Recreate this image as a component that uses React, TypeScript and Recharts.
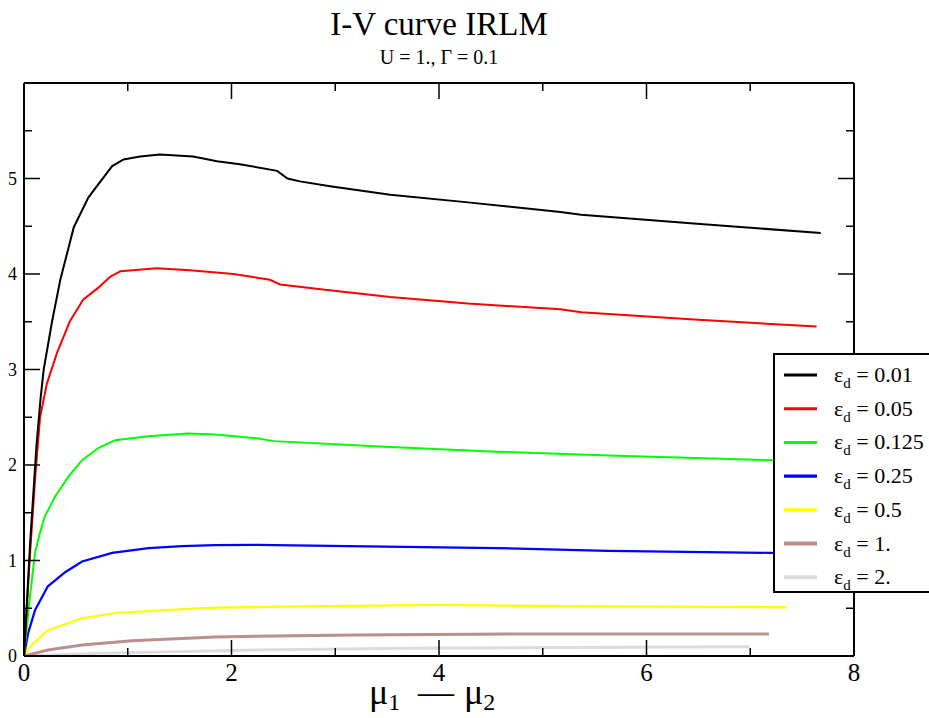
import React from 'react';
import { LineChart, Line, XAxis, YAxis, Legend } from 'recharts';

// ---- data ----
const epsLabels = ['0.01', '0.05', '0.125', '0.25', '0.5', '1.', '2.'];
const seriesColors = ['#000000', '#ff0000', '#00ff00', '#0000ff', '#ffff00', '#bc8f8f', '#dcdcdc'];
const seriesWidths = [2, 2, 2, 2.2, 2.2, 3, 3];

const x001 = [0, 0.06, 0.12, 0.16, 0.19, 0.27, 0.35, 0.48, 0.62, 0.73, 0.85, 0.96, 1.12, 1.31, 1.63, 1.86, 2.08, 2.44, 2.54, 2.66, 2.95, 3.53, 4.28, 5.17, 5.37, 6.55, 7.68];
const y001 = [0, 1.2, 2.2, 2.7, 3.0, 3.5, 3.94, 4.49, 4.8, 4.96, 5.13, 5.2, 5.23, 5.25, 5.23, 5.18, 5.15, 5.08, 5.0, 4.97, 4.92, 4.83, 4.75, 4.65, 4.62, 4.52, 4.43];

const x005 = [0, 0.06, 0.11, 0.155, 0.22, 0.32, 0.44, 0.57, 0.72, 0.83, 0.93, 1.28, 1.6, 2.02, 2.37, 2.47, 2.86, 3.53, 4.28, 5.17, 5.37, 6.5, 7.64];
const y005 = [0, 1.1, 1.9, 2.5, 2.85, 3.18, 3.5, 3.73, 3.86, 3.97, 4.03, 4.06, 4.04, 4.0, 3.94, 3.89, 3.84, 3.76, 3.69, 3.63, 3.6, 3.52, 3.45];

const x0125 = [0, 0.05, 0.106, 0.154, 0.2, 0.3, 0.43, 0.56, 0.72, 0.88, 1.2, 1.58, 1.84, 2.24, 2.41, 3.48, 4.56, 5.63, 7.2, 7.6];
const y0125 = [0, 0.55, 1.08, 1.29, 1.46, 1.67, 1.88, 2.05, 2.18, 2.26, 2.3, 2.33, 2.32, 2.28, 2.25, 2.19, 2.14, 2.1, 2.05, 2.03];

const x025 = [0, 0.04, 0.106, 0.23, 0.4, 0.56, 0.85, 1.2, 1.52, 1.84, 2.24, 3.48, 4.56, 5.63, 7.2, 7.6];
const y025 = [0, 0.24, 0.48, 0.73, 0.88, 0.99, 1.08, 1.13, 1.15, 1.16, 1.163, 1.146, 1.13, 1.1, 1.08, 1.07];

const x05 = [0, 0.058, 0.23, 0.56, 0.88, 1.36, 1.84, 2.72, 4.0, 5.5, 7.35];
const y05 = [0, 0.1, 0.27, 0.395, 0.45, 0.48, 0.506, 0.52, 0.535, 0.52, 0.51];

const x1 = [0, 0.23, 0.56, 1.04, 1.84, 3.2, 4.7, 7.18];
const y1 = [0, 0.063, 0.115, 0.16, 0.2, 0.22, 0.23, 0.23];

const x2 = [0, 0.75, 2.23, 3.7, 6.99];
const y2 = [0, 0.03, 0.063, 0.08, 0.098];

const xTicks = [0, 1, 2, 3, 4, 5, 6, 7, 8];
const yTicks = [0, 0.5, 1, 1.5, 2, 2.5, 3, 3.5, 4, 4.5, 5, 5.5, 6];
const xLabelled = [0, 2, 4, 6, 8];
const yLabelled = [0, 1, 2, 3, 4, 5];

const seriesX = [x001, x005, x0125, x025, x05, x1, x2];
const seriesY = [y001, y005, y0125, y025, y05, y1, y2];

const series = epsLabels.map((label, i) => ({
  name: label,
  color: seriesColors[i],
  width: seriesWidths[i],
  data: seriesX[i].map((x, j) => ({ x, y: seriesY[i][j] })),
}));

const FONT = '"Liberation Serif", "Times New Roman", serif';
const serif = { fontFamily: FONT };

const BottomTick = (props: any) => {
  const { x, y, payload } = props;
  const v = payload.value;
  const major = xLabelled.includes(v);
  return (
    <g>
      <line x1={x} y1={y} x2={x} y2={y - (major ? 16 : 8)} stroke="#000" strokeWidth={1.5} />
      {major && (
        <text x={x} y={y + 25} textAnchor="middle" fontSize={25} style={serif} fill="#000">
          {v}
        </text>
      )}
    </g>
  );
};

const TopTick = (props: any) => {
  const { x, y, payload } = props;
  const major = xLabelled.includes(payload.value);
  return <line x1={x} y1={y} x2={x} y2={y + (major ? 16 : 8)} stroke="#000" strokeWidth={1.5} />;
};

const LeftTick = (props: any) => {
  const { x, y, payload } = props;
  const v = payload.value;
  if (v >= 6) return <g />;
  const major = Number.isInteger(v);
  return (
    <g>
      <line x1={x} y1={y} x2={x + (major ? 16 : 8)} y2={y} stroke="#000" strokeWidth={1.5} />
      {yLabelled.includes(v) && (
        <text x={x - 7} y={y + 6} textAnchor="end" fontSize={18} style={serif} fill="#000">
          {v}
        </text>
      )}
    </g>
  );
};

const RightTick = (props: any) => {
  const { x, y, payload } = props;
  const v = payload.value;
  if (v >= 6) return <g />;
  const major = Number.isInteger(v);
  return <line x1={x} y1={y} x2={x - (major ? 16 : 8)} y2={y} stroke="#000" strokeWidth={1.5} />;
};

const XTitle = (props: any) => {
  const { viewBox } = props;
  const cx = viewBox.x + viewBox.width / 2;
  const by = 704;
  return (
    <text y={by} fontSize={36} style={serif} fill="#000">
      <tspan x={cx - 70}>μ</tspan>
      <tspan fontSize={24} dy={6}>1</tspan>
      <tspan x={cx - 21} dy={-6}>—</tspan>
      <tspan x={cx + 25}>μ</tspan>
      <tspan fontSize={24} dy={6}>2</tspan>
    </text>
  );
};

const LegendBox = (props: any) => {
  const payload = props.payload || [];
  return (
    <svg width={156} height={240} style={{ display: 'block' }}>
      {payload.map((entry: any, i: number) => {
        const s = series.find((q) => q.name === entry.value) || series[i];
        const cy = 20 + i * 33.7;
        return (
          <g key={i}>
            <line x1={9} y1={cy} x2={42} y2={cy} stroke={s.color} strokeWidth={s.width + 1} />
            <text x={59} y={cy + 7} fontSize={22} style={serif} fill="#000">
              ε<tspan fontSize={15} dy={6}>d</tspan>
              <tspan dy={-6}>{' = ' + s.name}</tspan>
            </text>
          </g>
        );
      })}
    </svg>
  );
};

const axisStyle = { stroke: '#000', strokeWidth: 2 };

export default function App() {
  return (
    <div style={{ position: 'absolute', left: 0, top: 0, width: 929, height: 718, overflow: 'hidden', background: '#fff' }}>
      <svg width={929} height={100} style={{ position: 'absolute', left: 0, top: 0 }}>
        <text x={439} y={35} textAnchor="middle" fontSize={33} style={serif} fill="#000">
          I-V curve IRLM
        </text>
        <text x={439} y={64} textAnchor="middle" fontSize={20} style={serif} fill="#000">
          U = 1., Γ = 0.1
        </text>
      </svg>
      <div style={{ position: 'absolute', left: 0, top: 0 }}>
        <LineChart width={929} height={718} margin={{ top: 82, right: 74, bottom: 61, left: 23 }}>
          <XAxis
            xAxisId="b"
            type="number"
            dataKey="x"
            domain={[0, 8]}
            ticks={xTicks}
            interval={0}
            allowDataOverflow
            height={1}
            tickSize={0}
            tickMargin={0}
            tickLine={false}
            axisLine={axisStyle}
            tick={<BottomTick />}
            label={<XTitle />}
          />
          <XAxis
            xAxisId="t"
            orientation="top"
            type="number"
            dataKey="x"
            domain={[0, 8]}
            ticks={xTicks}
            interval={0}
            allowDataOverflow
            height={1}
            tickSize={0}
            tickMargin={0}
            tickLine={false}
            axisLine={axisStyle}
            tick={<TopTick />}
          />
          <YAxis
            yAxisId="l"
            type="number"
            domain={[0, 6]}
            ticks={yTicks}
            interval={0}
            allowDataOverflow
            width={1}
            tickSize={0}
            tickMargin={0}
            tickLine={false}
            axisLine={axisStyle}
            tick={<LeftTick />}
          />
          <YAxis
            yAxisId="r"
            orientation="right"
            type="number"
            domain={[0, 6]}
            ticks={yTicks}
            interval={0}
            allowDataOverflow
            width={1}
            tickSize={0}
            tickMargin={0}
            tickLine={false}
            axisLine={axisStyle}
            tick={<RightTick />}
          />
          {series.slice().reverse().map((s) => (
            <Line
              key={s.name}
              xAxisId="b"
              yAxisId="l"
              data={s.data}
              dataKey="y"
              name={s.name}
              type="linear"
              stroke={s.color}
              strokeWidth={s.width}
              dot={false}
              activeDot={false}
              isAnimationActive={false}
            />
          ))}
          <Legend
            layout="vertical"
            align="center"
            verticalAlign="middle"
            content={<LegendBox />}
            wrapperStyle={{
              position: 'absolute',
              left: 773,
              top: 353,
              width: 156,
              height: 240,
              boxSizing: 'border-box',
              borderTop: '2px solid #000',
              borderLeft: '2px solid #000',
              borderBottom: '2px solid #000',
              background: '#fff',
            }}
          />
        </LineChart>
      </div>
    </div>
  );
}
